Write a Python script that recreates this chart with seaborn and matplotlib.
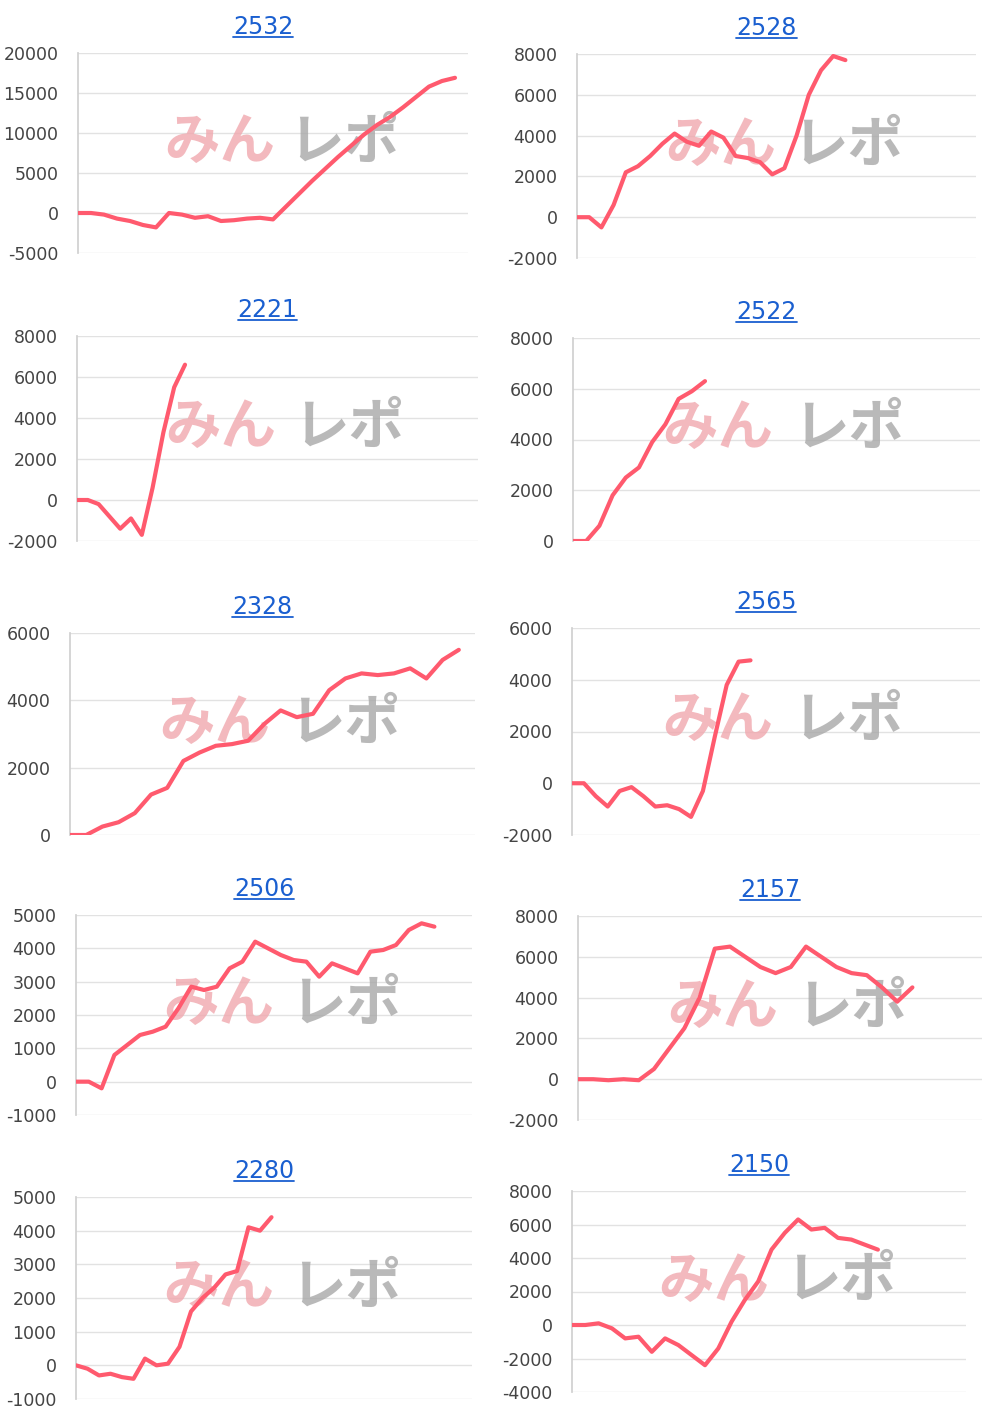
import matplotlib
matplotlib.use("Agg")
import matplotlib.pyplot as plt
import seaborn as sns
import pandas as pd
from matplotlib.lines import Line2D

sns.set_theme(style="white")
plt.rcParams['font.family'] = ['DejaVu Sans', 'Noto Sans CJK JP']
plt.rcParams['axes.unicode_minus'] = False

titles = ["2532", "2528", "2221", "2522", "2328", "2565", "2506", "2157", "2280", "2150"]
v2532 = [0, 0, -200, -700, -1000, -1500, -1800, 0, -200, -600, -400, -1000, -900, -700, -600, -800,
         800, 2400, 4000, 5500, 7000, 8400, 9800, 11000, 12000, 13200, 14500, 15800, 16500, 16900]
v2528 = [0, 0, -500, 600, 2200, 2500, 3000, 3600, 4100, 3700, 3500, 4200, 3900, 3000, 2900, 2700,
         2100, 2400, 4000, 6000, 7200, 7900, 7700]
v2221 = [0, 0, -200, -800, -1400, -900, -1700, 600, 3300, 5500, 6600]
v2522 = [0, 0, 600, 1800, 2500, 2900, 3900, 4600, 5600, 5900, 6300]
v2328 = [0, 0, 250, 380, 650, 1200, 1400, 2200, 2450, 2650, 2700, 2800, 3300, 3700, 3500, 3600,
         4300, 4650, 4800, 4750, 4800, 4950, 4650, 5200, 5500]
v2565 = [0, 0, -500, -900, -300, -150, -500, -900, -850, -1000, -1300, -300, 1800, 3800, 4700, 4750]
v2506 = [0, 0, -200, 800, 1100, 1400, 1500, 1650, 2200, 2850, 2750, 2850, 3400, 3600, 4200, 4000,
         3800, 3650, 3600, 3150, 3550, 3400, 3250, 3900, 3950, 4100, 4550, 4750, 4650]
v2157 = [0, 0, -50, 0, -50, 500, 1500, 2500, 4000, 6400, 6500, 6000, 5500, 5200, 5500, 6500, 6000,
         5500, 5200, 5100, 4500, 3800, 4500]
v2280 = [0, -100, -300, -250, -350, -400, 200, 0, 50, 550, 1600, 2000, 2300, 2700, 2800, 4100, 4000, 4400]
v2150 = [0, 0, 100, -200, -800, -700, -1600, -800, -1200, -1800, -2400, -1400, 200, 1500, 2600, 4500,
         5500, 6300, 5700, 5800, 5200, 5100, 4800, 4500]
series = [v2532, v2528, v2221, v2522, v2328, v2565, v2506, v2157, v2280, v2150]
y_ticks = [list(range(-5000, 20001, 5000)), list(range(-2000, 8001, 2000)), list(range(-2000, 8001, 2000)),
           list(range(0, 8001, 2000)), list(range(0, 6001, 2000)), list(range(-2000, 6001, 2000)),
           list(range(-1000, 5001, 1000)), list(range(-2000, 8001, 2000)), list(range(-1000, 5001, 1000)),
           list(range(-4000, 8001, 2000))]
step_px = [13.0, 12.2, 10.8, 13.2, 16.2, 11.9, 12.8, 15.2, 11.5, 13.3]

# axes boxes in pixels: left, right, top, bottom
boxes = [(78, 468, 53, 253), (577, 976, 54, 258), (77, 478, 336, 541), (573, 980, 338, 541),
         (70, 475, 633, 835), (572, 980, 628, 835), (76, 472, 915, 1115), (578, 982, 916, 1120),
         (76, 472, 1197, 1399), (572, 966, 1191, 1392)]

W, H = 1000, 1420
fig = plt.figure(figsize=(W / 100, H / 100), dpi=100)
line_color = "#ff5a6e"
axes = []
for i, t in enumerate(titles):
    l, r, top, b = boxes[i]
    ax = fig.add_axes([l / W, 1 - b / H, (r - l) / W, (b - top) / H])
    df = pd.DataFrame({"x": range(len(series[i])), "y": series[i]})
    sns.lineplot(data=df, x="x", y="y", ax=ax, color=line_color, linewidth=3, zorder=3)
    ax.set_xlim(0, (r - l) / step_px[i])
    ax.set_ylim(y_ticks[i][0], y_ticks[i][-1])
    ax.set_yticks(y_ticks[i])
    ax.set_xticks([])
    ax.set_xlabel("")
    ax.set_ylabel("")
    ax.grid(axis="y", color="#e2e2e2", linewidth=1)
    for s in ["top", "right", "bottom"]:
        ax.spines[s].set_visible(False)
    ax.spines["left"].set_color("#d0d0d0")
    ax.tick_params(axis="y", length=0, labelsize=12.5, labelcolor="#444444", pad=14)
    # watermark
    ax.text(0.22, 0.55, "みん", transform=ax.transAxes, fontsize=40, fontweight="bold", style="italic",
            color="#f0a8ae", alpha=0.8, family=["Noto Sans CJK JP"], ha="left", va="center", zorder=2)
    ax.text(0.54, 0.55, "レポ", transform=ax.transAxes, fontsize=40, fontweight="bold", style="italic",
            color="#a8a8a8", alpha=0.8, family=["Noto Sans CJK JP"], ha="left", va="center", zorder=2)
    ttl = ax.text(0.5 - 10 / (r - l), 1.0 + 14 / (b - top), t, transform=ax.transAxes, fontsize=17,
                  color="#1a5fd0", ha="center", va="bottom")
    axes.append((ax, ttl))

fig.canvas.draw()
renderer = fig.canvas.get_renderer()
for ax, ttl in axes:
    bb = ttl.get_window_extent(renderer).transformed(fig.transFigure.inverted())
    yl = bb.y0 + 2 / H
    fig.add_artist(Line2D([bb.x0, bb.x1], [yl, yl], transform=fig.transFigure, color="#1a5fd0", linewidth=1.3))

fig.savefig("out.png", dpi=100, facecolor="white")
